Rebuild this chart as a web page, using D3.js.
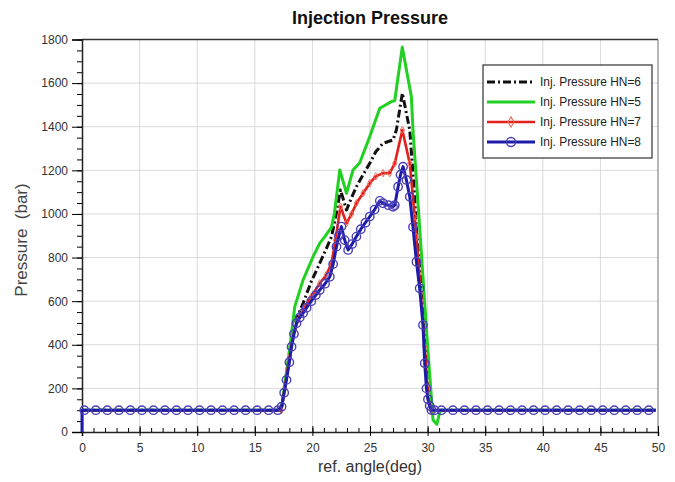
<!DOCTYPE html>
<html>
<head>
<meta charset="utf-8">
<script src="https://cdn.jsdelivr.net/npm/d3@7"></script>
<style>
  body { margin: 0; background: #fff; }
  svg { display: block; font-family: "Liberation Sans", Arial, sans-serif; }
</style>
</head>
<body>
<svg width="675" height="482"></svg>
<script>
// values
var angleHN6 = [0, 17.3, 17.6, 18.0, 18.33, 18.7, 19.19, 19.9, 20.64, 21.2, 21.66, 22.0, 22.44, 22.96, 23.4, 23.82, 24.4, 24.98, 25.5, 26.13, 27.0, 27.29, 27.81, 28.45, 28.88, 29.03, 29.4, 29.75, 30.03, 30.3, 49.8];
var pressHN6 = [100, 100, 210, 360, 468, 530, 590, 690, 774, 840, 896, 980, 1110, 1018, 1075, 1125, 1180, 1232, 1285, 1324, 1339, 1385, 1554, 1385, 1079, 927, 700, 468, 162, 100, 100];

var angleHN5 = [0, 17.3, 17.6, 17.9, 18.19, 18.47, 19.19, 20.06, 20.64, 21.08, 21.66, 21.9, 22.38, 22.96, 23.53, 24.11, 24.98, 25.85, 26.86, 27.15, 27.8, 28.59, 28.73, 29.31, 29.9, 30.47, 30.8, 31.1, 49.8];
var pressHN5 = [100, 100, 220, 330, 453, 575, 697, 804, 866, 896, 940, 1000, 1202, 1095, 1202, 1235, 1355, 1485, 1515, 1520, 1765, 1538, 1385, 940, 468, 55, 35, 100, 100];

var angleHN7 = [0, 17.3, 17.6, 18.0, 18.33, 18.7, 19.19, 19.9, 20.64, 21.2, 21.66, 22.0, 22.44, 22.96, 23.4, 23.82, 24.4, 24.98, 25.5, 26.13, 26.71, 27.15, 27.81, 28.45, 28.88, 29.03, 29.4, 29.75, 30.03, 30.3, 49.8];
var pressHN7 = [100, 100, 200, 340, 437, 510, 560, 620, 682, 720, 774, 880, 1034, 957, 1000, 1049, 1095, 1141, 1172, 1187, 1187, 1232, 1385, 1232, 988, 896, 640, 391, 162, 100, 100];

var angleHN8 = [0, 0, 0.2, 1.2, 2.2, 3.2, 4.2, 5.2, 6.2, 7.2, 8.2, 9.2, 10.2, 11.2, 12.2, 13.2, 14.2, 15.2, 16.2, 17.0,
  17.32, 17.55, 17.75, 18.0, 18.19, 18.4, 18.62, 18.9, 19.19, 19.5, 19.9, 20.3, 20.64, 21.1, 21.51, 21.8, 22.09, 22.3, 22.52,
  22.8, 23.1, 23.45, 23.82, 24.2, 24.6, 24.98, 25.4, 25.85, 26.13, 26.6, 27.0, 27.15, 27.44, 27.65, 27.87, 28.16, 28.45,
  28.73, 29.03, 29.31, 29.6, 29.75, 29.9, 30.03, 30.18, 30.33, 30.6,
  31.2, 32.2, 33.2, 34.2, 35.2, 36.2, 37.2, 38.2, 39.2, 40.2, 41.2, 42.2, 43.2, 44.2, 45.2, 46.2, 47.2, 48.2, 49.2, 49.8];
var pressHN8 = [0, 100, 100, 100, 100, 100, 100, 100, 100, 100, 100, 100, 100, 100, 100, 100, 100, 100, 100, 100,
  116, 180, 239, 320, 391, 450, 499, 525, 545, 570, 600, 628, 651, 680, 712, 770, 850, 900, 942,
  880, 835, 862, 896, 930, 960, 988, 1020, 1060, 1049, 1040, 1033, 1040, 1125, 1180, 1217, 1156, 1079,
  940, 781, 659, 491, 315, 200, 150, 120, 101, 100,
  100, 100, 100, 100, 100, 100, 100, 100, 100, 100, 100, 100, 100, 100, 100, 100, 100, 100, 100, 100];

var seriesNames = ["Inj. Pressure HN=6", "Inj. Pressure HN=5", "Inj. Pressure HN=7", "Inj. Pressure HN=8"];
var xTicks = [0, 5, 10, 15, 20, 25, 30, 35, 40, 45, 50];
var yTicks = [0, 200, 400, 600, 800, 1000, 1200, 1400, 1600, 1800];

var svg = d3.select("svg"),
    margin = {top: 39.5, right: 17, bottom: 50, left: 82},
    width = 658 - margin.left,
    height = 432 - margin.top;

var x = d3.scaleLinear().domain([0, 50]).range([0, width]),
    y = d3.scaleLinear().domain([0, 1800]).range([height, 0]);

function zip(a, b) { return a.map(function (v, i) { return {x: v, y: b[i]}; }); }

var series = [
  {name: seriesNames[0], data: zip(angleHN6, pressHN6), color: "#111", width: 3, dash: "8,3,2,3", marker: null},
  {name: seriesNames[1], data: zip(angleHN5, pressHN5), color: "#22d022", width: 3, dash: null, marker: null},
  {name: seriesNames[2], data: zip(angleHN7, pressHN7), color: "#e3201b", width: 2.6, dash: null, marker: "diamond"},
  {name: seriesNames[3], data: zip(angleHN8, pressHN8), color: "#1c1ca8", width: 3, dash: null, marker: "circle"}
];

svg.append("text")
  .attr("x", 370).attr("y", 24)
  .attr("text-anchor", "middle")
  .style("font", "bold 18px 'Liberation Sans', Arial, sans-serif")
  .attr("fill", "#111")
  .text("Injection Pressure");

var g = svg.append("g")
  .attr("transform", "translate(" + margin.left + "," + margin.top + ")");

// grid
g.selectAll(".gx").data(xTicks.slice(1, -1)).enter().append("line")
  .attr("x1", x).attr("x2", x).attr("y1", 0).attr("y2", height)
  .attr("stroke", "#d9d9d9").attr("stroke-width", 1);
g.selectAll(".gy").data(yTicks.slice(1, -1)).enter().append("line")
  .attr("x1", 0).attr("x2", width).attr("y1", y).attr("y2", y)
  .attr("stroke", "#d9d9d9").attr("stroke-width", 1);

// frame top / right
g.append("line").attr("x1", 0).attr("x2", width).attr("y1", 0).attr("y2", 0)
  .attr("stroke", "#333").attr("stroke-width", 1.5);
g.append("line").attr("x1", width).attr("x2", width).attr("y1", 0).attr("y2", height)
  .attr("stroke", "#888").attr("stroke-width", 1.2);

// x axis: minor ticks inside, majors labelled
var xAxis = g.append("g").attr("transform", "translate(0," + height + ")");
xAxis.append("g").call(d3.axisBottom(x).ticks(50).tickSize(-4).tickFormat(""))
  .call(function (a) { a.select(".domain").remove(); });
xAxis.append("g").call(d3.axisBottom(x).tickValues(xTicks).tickSize(4).tickFormat(d3.format("d")))
  .call(function (a) {
    a.select(".domain").attr("stroke", "#222").attr("stroke-width", 1.5);
    a.selectAll(".tick line").attr("y1", -6);
    a.selectAll("text").attr("y", 11).attr("fill", "#333")
      .style("font", "12px 'Liberation Sans', Arial, sans-serif");
  });

// y axis: minor ticks outside
var yAxis = g.append("g");
yAxis.append("g").call(d3.axisLeft(y).ticks(36).tickSize(5).tickFormat(""))
  .call(function (a) { a.select(".domain").remove(); });
yAxis.append("g").call(d3.axisLeft(y).tickValues(yTicks).tickSize(10).tickFormat(d3.format("d")))
  .call(function (a) {
    a.select(".domain").attr("stroke", "#222").attr("stroke-width", 1.5);
    a.selectAll("text").attr("x", -14).attr("fill", "#333")
      .style("font", "12px 'Liberation Sans', Arial, sans-serif");
  });

svg.append("text")
  .attr("transform", "translate(27,240) rotate(-90)")
  .attr("text-anchor", "middle")
  .attr("fill", "#444")
  .style("font", "17px 'Liberation Sans', Arial, sans-serif")
  .style("white-space", "pre")
  .text("Pressure  (bar)");

svg.append("text")
  .attr("x", 370).attr("y", 472)
  .attr("text-anchor", "middle")
  .attr("fill", "#333")
  .style("font", "16px 'Liberation Sans', Arial, sans-serif")
  .text("ref. angle(deg)");

// lines
var line = d3.line().x(function (d) { return x(d.x); }).y(function (d) { return y(d.y); });

var plot = g.append("g");
series.forEach(function (s) {
  plot.append("path")
    .datum(s.data)
    .attr("fill", "none")
    .attr("stroke", s.color)
    .attr("stroke-width", s.width)
    .attr("stroke-linejoin", "round")
    .attr("stroke-dasharray", s.dash)
    .attr("d", line);
  var pts = s.data.filter(function (d) { return d.x > 0 && d.x < 49.8; });
  if (s.marker == "diamond") {
    plot.selectAll(null).data(pts).enter().append("path")
      .attr("d", d3.symbol(d3.symbolDiamond, 16))
      .attr("transform", function (d) { return "translate(" + x(d.x) + "," + y(d.y) + ")"; })
      .attr("fill", "none").attr("stroke", "#e87060").attr("stroke-width", 1);
  }
  if (s.marker == "circle") {
    plot.selectAll(null).data(pts).enter().append("circle")
      .attr("cx", function (d) { return x(d.x); })
      .attr("cy", function (d) { return y(d.y); })
      .attr("r", 4.2)
      .attr("fill", "none").attr("stroke", "#4b3fb8").attr("stroke-width", 1.4);
  }
});

// legend
var lg = svg.append("g").attr("transform", "translate(483,65)");
lg.append("rect").attr("width", 169).attr("height", 93)
  .attr("fill", "#fff").attr("stroke", "#333").attr("stroke-width", 1.2);
var row = lg.selectAll(".row").data(series).enter().append("g")
  .attr("transform", function (d, i) { return "translate(0," + (17 + i * 20) + ")"; });
row.append("line").attr("x1", 4).attr("x2", 52).attr("y1", 0).attr("y2", 0)
  .attr("stroke", function (d) { return d.color; })
  .attr("stroke-width", function (d) { return d.width; })
  .attr("stroke-dasharray", function (d) { return d.dash; });
row.filter(function (d) { return d.marker == "diamond"; }).append("path")
  .attr("d", d3.symbol(d3.symbolDiamond, 30)).attr("transform", "translate(28,0)")
  .attr("fill", "none").attr("stroke", "#e87060").attr("stroke-width", 1.2);
row.filter(function (d) { return d.marker == "circle"; }).append("circle")
  .attr("cx", 28).attr("r", 4.5)
  .attr("fill", "none").attr("stroke", "#4b3fb8").attr("stroke-width", 1.4);
row.append("text").attr("x", 57).attr("y", 4)
  .attr("fill", "#222")
  .attr("textLength", 101).attr("lengthAdjust", "spacingAndGlyphs")
  .style("font", "12px 'Liberation Sans', Arial, sans-serif")
  .text(function (d) { return d.name; });
</script>
</body>
</html>
